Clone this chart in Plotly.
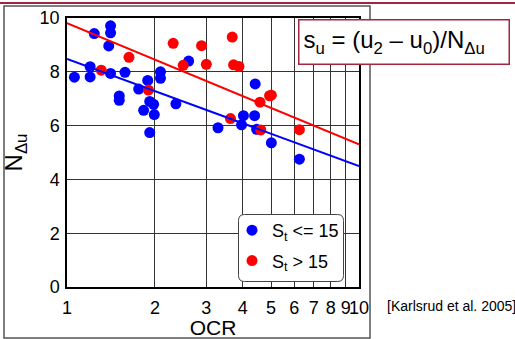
import plotly.graph_objects as go

# ---------------- data ----------------
blue_ocr = [1.06, 1.20, 1.20, 1.24, 1.41, 1.41, 1.39, 1.41, 1.58, 1.51, 1.51, 1.76,
            1.89, 1.83, 1.92, 1.98, 1.99, 1.92, 2.09, 2.09, 2.36, 2.61, 3.29, 3.96,
            4.02, 4.39, 4.41, 4.46, 5.01, 6.25]
blue_n = [7.80, 8.19, 7.81, 9.42, 9.71, 9.45, 8.96, 7.94, 7.98, 7.10, 6.94, 7.36,
          7.68, 6.57, 6.90, 6.79, 6.41, 5.74, 8.00, 7.76, 6.81, 8.40, 5.92, 6.03,
          6.37, 6.37, 7.55, 5.86, 5.36, 4.75]

red_ocr = [1.31, 1.63, 1.90, 2.31, 2.50, 2.89, 3.00, 3.68, 3.72, 3.88, 3.63, 4.58,
           4.94, 5.01, 4.61, 6.25]
red_n = [8.06, 8.54, 7.32, 9.06, 8.24, 8.97, 8.28, 9.29, 8.26, 8.20, 6.26, 6.87,
         7.11, 7.13, 5.84, 5.85]

fit_ocr = [1, 10]
blue_fit = [8.48, 4.50]
red_fit = [9.81, 5.30]

x_ticks = [1, 2, 3, 4, 5, 6, 7, 8, 9, 10]
x_ticktext = ["1", "2", "3", "4", "5", "6", "7", "8", "9", "10"]
y_ticks = [0, 2, 4, 6, 8, 10]

series_names = ["S<sub>t</sub> <= 15", "S<sub>t</sub> > 15"]
formula = "s<sub>u</sub> = (u<sub>2</sub> – u<sub>0</sub>)/N<sub>Δu</sub>"
source = "[Karlsrud et al. 2005]"

# ---------------- layout helpers (pixel -> paper) ----------------
W, H = 515, 339
L, R, T, B = 67, 156, 18, 52
PW, PH = W - L - R, H - T - B


def px(x):
    return (x - L) / PW


def py(y):
    return (H - B - y) / PH


FONT = "Arial, Liberation Sans, sans-serif"
BLUE = "#0000ff"
RED = "#ff0000"
DARKRED = "#a3263f"

fig = go.Figure()
fig.add_trace(go.Scatter(x=blue_ocr, y=blue_n, mode="markers", name=series_names[0],
                         legendgroup="a",
                         marker=dict(color=BLUE, size=11, line=dict(width=0))))
fig.add_trace(go.Scatter(x=red_ocr, y=red_n, mode="markers", name=series_names[1],
                         legendgroup="b",
                         marker=dict(color=RED, size=11, line=dict(width=0))))
fig.add_trace(go.Scatter(x=fit_ocr, y=blue_fit, mode="lines", showlegend=False,
                         line=dict(color=BLUE, width=2)))
fig.add_trace(go.Scatter(x=fit_ocr, y=red_fit, mode="lines", showlegend=False,
                         line=dict(color=RED, width=2)))

# rounded legend box
x0, x1, y0, y1 = px(238.5), px(343.5), py(281.5), py(214.5)
rx, ry = 6 / PW, 6 / PH
path = (f"M {x0+rx},{y0} L {x1-rx},{y0} Q {x1},{y0} {x1},{y0+ry} "
        f"L {x1},{y1-ry} Q {x1},{y1} {x1-rx},{y1} L {x0+rx},{y1} "
        f"Q {x0},{y1} {x0},{y1-ry} L {x0},{y0+ry} Q {x0},{y0} {x0+rx},{y0} Z")

shapes = [
    dict(type="path", xref="paper", yref="paper", path=path, layer="above",
         fillcolor="white", line=dict(color="#444444", width=1)),
    # outer frame
    dict(type="rect", xref="paper", yref="paper", x0=px(4), x1=px(370),
         y0=py(338), y1=py(6), line=dict(color="#555555", width=1.5), layer="below"),
    # top dark-red rule
    dict(type="line", xref="paper", yref="paper", x0=px(0), x1=px(515),
         y0=py(3), y1=py(3), line=dict(color=DARKRED, width=2)),
]

fig.update_layout(
    width=W, height=H,
    margin=dict(l=L, r=R, t=T, b=B),
    paper_bgcolor="white", plot_bgcolor="white",
    font=dict(family=FONT, color="black", size=17),
    shapes=shapes,
    showlegend=True,
    legend=dict(x=px(232), y=py(212), xanchor="left", yanchor="top",
                bgcolor="rgba(0,0,0,0)", borderwidth=0,
                font=dict(size=18, family=FONT), tracegroupgap=4),
    annotations=[
        dict(text=formula, xref="paper", yref="paper", x=px(403.5), y=py(41.5),
             xanchor="center", yanchor="middle", showarrow=False, align="left",
             width=201, height=35, borderpad=4, borderwidth=1.5,
             bordercolor=DARKRED, bgcolor="white",
             font=dict(size=24, family=FONT)),
        dict(text=source, xref="paper", yref="paper", x=px(385), y=py(306),
             xanchor="left", yanchor="middle", showarrow=False,
             font=dict(size=14, family=FONT)),
    ],
)

fig.update_xaxes(type="log", range=[0, 1], tickvals=x_ticks, ticktext=x_ticktext,
                 tickangle=0, automargin=False, tickfont=dict(size=18),
                 showgrid=True, gridcolor="#333333", gridwidth=1,
                 showline=True, linecolor="black", linewidth=1.5, mirror=True,
                 ticks="", ticklabelstandoff=4,
                 title=dict(text="OCR", font=dict(size=21), standoff=3))
fig.update_yaxes(range=[0, 10], tickvals=y_ticks, automargin=False,
                 tickfont=dict(size=18),
                 showgrid=True, gridcolor="#333333", gridwidth=1, zeroline=False,
                 showline=True, linecolor="black", linewidth=1.5, mirror=True,
                 ticks="", ticklabelstandoff=2,
                 title=dict(text="N<sub>Δu</sub>", font=dict(size=24), standoff=12))

fig.write_html("out.html")
